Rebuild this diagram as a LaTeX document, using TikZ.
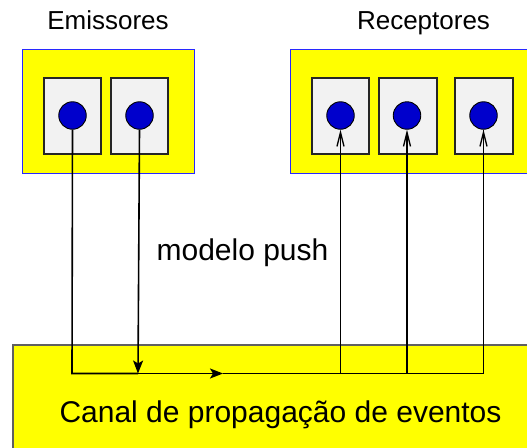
\documentclass[tikz,border=0pt]{standalone}
\usepackage{fontspec}
\setmainfont{Liberation Sans}
\usetikzlibrary{arrows.meta}
\definecolor{ylw}{RGB}{255,255,0}
\definecolor{boxblue}{RGB}{40,40,255}
\definecolor{innerfill}{RGB}{242,242,242}
\definecolor{dotblue}{RGB}{0,0,204}
\definecolor{chanborder}{RGB}{96,96,96}
\tikzset{
  groupbox/.style={draw=boxblue, fill=ylw, line width=1pt},
  innerbox/.style={draw=black!85, fill=innerfill, line width=1.1pt},
  dot/.style={circle, draw=black, fill=dotblue, line width=0.9pt, minimum size=27.5pt, inner sep=0pt},
  chanbox/.style={draw=chanborder, fill=ylw, line width=1.6pt},
  wire/.style={draw=black, line width=1.6pt},
  pushtip/.style={-{Stealth[length=13pt,width=10pt,inset=3pt]}},
  recvtip/.style={-{Straight Barb[length=14pt,width=7pt,line width=1.3pt]}},
  lab/.style={font=\fontsize{26}{30}\selectfont, anchor=base, inner sep=0pt},
  biglab/.style={font=\fontsize{30}{34}\selectfont, anchor=base, inner sep=0pt}
}
\begin{document}
\begin{tikzpicture}[x=1pt,y=-1pt]
\useasboundingbox (0,0) rectangle (527,447);
\clip (0,0) rectangle (527,447);
\fill[white] (0,0) rectangle (527,447);
% group boxes
\draw[groupbox] (22,49) rectangle (194,173);
\draw[groupbox] (290,49) rectangle (560,173);
% inner boxes
\draw[innerbox] (44,78) rectangle (101,154);
\draw[innerbox] (111,78) rectangle (168,154);
\draw[innerbox] (312,78) rectangle (369,154);
\draw[innerbox] (379,78) rectangle (437,154);
\draw[innerbox] (455,78) rectangle (513,154);
% channel box
\draw[chanbox] (13,345) rectangle (560,470);
% labels
\node[lab] (lemi) at (108,29) {Emissores};
\node[lab] (lrec) at (423.5,29) {Receptores};
\node[biglab] (lpush) at (242.5,260) {modelo push};
\node[biglab] (lcanal) at (280.5,422) {Canal de propagação de eventos};
% dots
\node[dot] (e1) at (72.5,115.5) {};
\node[dot] (e2) at (139.5,115.5) {};
\node[dot] (r1) at (340.5,115.5) {};
\node[dot] (r2) at (407,115.5) {};
\node[dot] (r3) at (483.5,115.5) {};
% bus coordinates
\coordinate (b1) at (72,373.5);
\coordinate (b2) at (138,373.5);
\coordinate (bm) at (223,373.5);
\coordinate (b3) at (340.5,373.5);
\coordinate (b4) at (407,373.5);
\coordinate (b5) at (483.5,373.5);
% connectors
\draw[wire, line join=miter] (e1.south) -- (b1) -- (b2);
\draw[wire, pushtip] (b2) -- (bm);
\draw[wire, line join=miter] (bm) -- (b5) -- (r3.south);
\draw[wire, pushtip] (e2.south) -- (b2);
\draw[wire, recvtip] (b3) -- (r1.south);
\draw[wire, recvtip] (b4) -- (r2.south);
\draw[wire, recvtip] (b5) -- (r3.south);
\end{tikzpicture}
\end{document}
